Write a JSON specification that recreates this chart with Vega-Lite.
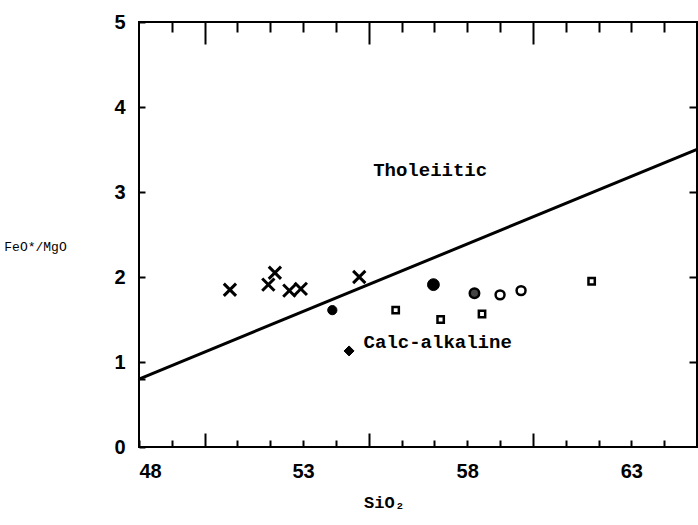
{
  "$schema": "https://vega.github.io/schema/vega-lite/v6.json",
  "width": 558,
  "height": 425,
  "autosize": {"type": "none"},
  "padding": {"left": 139, "top": 22, "right": 1, "bottom": 78},
  "background": "white",
  "config": {
    "view": {"stroke": "black", "strokeWidth": 2},
    "axis": {"grid": false, "domain": false, "tickColor": "black", "tickWidth": 2, "labelColor": "black", "titleColor": "black"}
  },
  "datasets": {
    "boundary": [
      {"SiO2": 48, "ratio": 0.8},
      {"SiO2": 65, "ratio": 3.5}
    ],
    "samples": [
      {"SiO2": 50.77, "ratio": 1.85, "type": "cross"},
      {"SiO2": 51.94, "ratio": 1.91, "type": "cross"},
      {"SiO2": 52.14, "ratio": 2.05, "type": "cross"},
      {"SiO2": 52.58, "ratio": 1.84, "type": "cross"},
      {"SiO2": 52.93, "ratio": 1.86, "type": "cross"},
      {"SiO2": 54.71, "ratio": 2.0, "type": "cross"},
      {"SiO2": 53.89, "ratio": 1.61, "type": "dot"},
      {"SiO2": 54.4, "ratio": 1.13, "type": "diamond"},
      {"SiO2": 56.97, "ratio": 1.91, "type": "bigdot"},
      {"SiO2": 58.22, "ratio": 1.81, "type": "halfcircle"},
      {"SiO2": 59.0, "ratio": 1.79, "type": "opencircle"},
      {"SiO2": 59.64, "ratio": 1.84, "type": "opencircle"},
      {"SiO2": 55.82, "ratio": 1.61, "type": "square"},
      {"SiO2": 57.19, "ratio": 1.5, "type": "square"},
      {"SiO2": 58.45, "ratio": 1.565, "type": "square"},
      {"SiO2": 61.79, "ratio": 1.95, "type": "square"}
    ],
    "labels": [
      {"SiO2": 56.87, "ratio": 3.26, "text": "Tholeiitic"},
      {"SiO2": 57.1, "ratio": 1.24, "text": "Calc-alkaline"}
    ]
  },
  "layer": [
    {
      "data": {"name": "boundary"},
      "mark": {"type": "line", "color": "black", "strokeWidth": 3, "clip": true},
      "encoding": {
        "x": {
          "field": "SiO2", "type": "quantitative",
          "scale": {"domain": [48, 65], "nice": false, "zero": false},
          "axis": {
            "orient": "bottom",
            "values": [48, 49, 50, 51, 52, 53, 54, 55, 56, 57, 58, 59, 60, 61, 62, 63, 64],
            "labelExpr": "(datum.value - 48) % 5 == 0 ? datum.label : ''",
            "tickSize": {"condition": {"test": "datum.value % 5 == 0", "value": -14}, "value": -7},
            "labelPadding": 21,
            "labelFont": "Liberation Sans", "labelFontWeight": "bold", "labelFontSize": 20,
            "title": "SiO₂",
            "titleFont": "Liberation Mono", "titleFontWeight": "bold", "titleFontSize": 17,
            "titleX": 245,
            "titlePadding": 13
          }
        },
        "y": {
          "field": "ratio", "type": "quantitative",
          "scale": {"domain": [0, 5], "nice": false, "zero": false},
          "axis": {
            "orient": "left",
            "values": [0, 0.8, 1, 2, 3, 4, 5],
            "labelExpr": "datum.value == 0.8 ? '' : datum.label",
            "tickSize": -6,
            "labelPadding": 20,
            "labelFont": "Liberation Sans", "labelFontWeight": "bold", "labelFontSize": 20,
            "title": "FeO*/MgO",
            "titleAngle": 0,
            "titleFont": "Liberation Mono", "titleFontWeight": "normal", "titleFontSize": 13,
            "titleAlign": "center", "titleBaseline": "middle",
            "titleX": -104, "titleY": 224
          }
        }
      }
    },
    {
      "data": {"name": "samples"},
      "mark": {"type": "point", "opacity": 1},
      "encoding": {
        "x": {
          "field": "SiO2", "type": "quantitative",
          "axis": {
            "orient": "top",
            "values": [49, 50, 51, 52, 53, 54, 55, 56, 57, 58, 59, 60, 61, 62, 63, 64],
            "labels": false,
            "tickSize": {"condition": {"test": "datum.value % 5 == 0", "value": -22}, "value": -10},
            "title": null
          }
        },
        "y": {
          "field": "ratio", "type": "quantitative",
          "axis": {"orient": "right", "values": [1, 2, 3, 4], "labels": false, "tickSize": -8, "title": null}
        },
        "shape": {
          "field": "type", "type": "nominal", "legend": null,
          "scale": {
            "domain": ["cross", "dot", "diamond", "bigdot", "halfcircle", "opencircle", "square"],
            "range": ["M -1 -1 L 1 1 M -1 1 L 1 -1", "circle", "diamond", "circle", "circle", "circle", "square"]
          }
        },
        "fill": {
          "field": "type", "type": "nominal", "legend": null,
          "scale": {
            "domain": ["cross", "dot", "diamond", "bigdot", "halfcircle", "opencircle", "square"],
            "range": ["transparent", "black", "black", "black", "#444444", "white", "white"]
          }
        },
        "stroke": {"value": "black"},
        "size": {
          "field": "type", "type": "ordinal", "legend": null,
          "scale": {
            "type": "ordinal",
            "domain": ["cross", "dot", "diamond", "bigdot", "halfcircle", "opencircle", "square"],
            "range": [150, 85, 100, 140, 90, 80, 40]
          }
        },
        "strokeWidth": {
          "field": "type", "type": "ordinal", "legend": null,
          "scale": {
            "type": "ordinal",
            "domain": ["cross", "dot", "diamond", "bigdot", "halfcircle", "opencircle", "square"],
            "range": [3, 1, 1, 1, 2.5, 2.5, 2.5]
          }
        }
      }
    },
    {
      "data": {"name": "labels"},
      "mark": {"type": "text", "font": "Liberation Mono", "fontWeight": "bold", "fontSize": 19, "color": "black", "align": "center", "baseline": "middle"},
      "encoding": {
        "x": {"field": "SiO2", "type": "quantitative", "axis": null},
        "y": {"field": "ratio", "type": "quantitative", "axis": null},
        "text": {"field": "text"}
      }
    }
  ],
  "resolve": {"axis": {"x": "independent", "y": "independent"}}
}
